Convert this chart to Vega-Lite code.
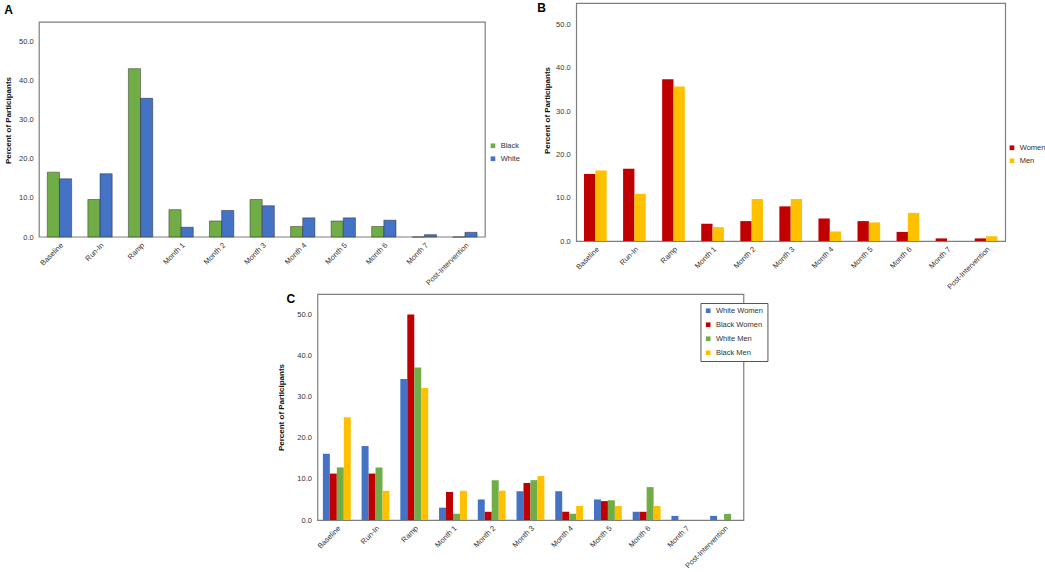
{
  "$schema": "https://vega.github.io/schema/vega-lite/v6.json",
  "padding": {"left": 4, "top": 1, "right": 4, "bottom": 0},
  "config": {
    "font": "Liberation Sans",
    "view": {"stroke": "#7f7f7f", "strokeWidth": 1.2},
    "axis": {"grid": false, "ticks": false, "labelFontSize": 7.5, "labelColor": "#333", "titleFontSize": 8, "titleFontWeight": "bold", "titleColor": "#111", "domain": false},
    "axisX": {"labelAngle": -45, "labelPadding": 4},
    "axisY": {"labelPadding": 6},
    "title": {"fontSize": 12, "fontWeight": "bold", "frame": "group", "color": "#000", "orient": "left", "angle": 0, "anchor": "end", "align": "left", "baseline": "top"},
    "legend": {"title": null, "labelFontSize": 7.5, "labelColor": "#333", "symbolType": "square", "symbolSize": 22, "rowPadding": 4, "symbolStrokeWidth": 0}
  },
  "resolve": {"scale": {"color": "independent", "xOffset": "independent", "x": "independent", "y": "independent"}, "legend": {"color": "independent"}},
  "vconcat": [
    {
      "spacing": 16,
      "resolve": {"scale": {"color": "independent", "xOffset": "independent", "x": "independent", "y": "independent"}, "legend": {"color": "independent"}},
      "hconcat": [
        {
          "title": {"text": "A", "offset": -17, "dy": 2},
          "width": 446,
          "height": 234,
          "view": {"stroke": null},
          "layer": [
            {
              "data": {"values": [{"frame": "plot"}]},
              "mark": {"type": "rect", "fill": null, "stroke": "#7f7f7f", "strokeWidth": 1.2},
              "encoding": {
                "y": {"datum": 55, "type": "quantitative", "scale": {"domain": [0, 59.9], "nice": false}},
                "y2": {"datum": 0}
              }
            },
            {
              "data": {"values": [
                {"period": "Baseline", "group": "Black", "value": 16.6},
                {"period": "Baseline", "group": "White", "value": 14.9},
                {"period": "Run-In", "group": "Black", "value": 9.6},
                {"period": "Run-In", "group": "White", "value": 16.2},
                {"period": "Ramp", "group": "Black", "value": 43.1},
                {"period": "Ramp", "group": "White", "value": 35.5},
                {"period": "Month 1", "group": "Black", "value": 7.0},
                {"period": "Month 1", "group": "White", "value": 2.5},
                {"period": "Month 2", "group": "Black", "value": 4.1},
                {"period": "Month 2", "group": "White", "value": 6.8},
                {"period": "Month 3", "group": "Black", "value": 9.6},
                {"period": "Month 3", "group": "White", "value": 8.0},
                {"period": "Month 4", "group": "Black", "value": 2.7},
                {"period": "Month 4", "group": "White", "value": 4.9},
                {"period": "Month 5", "group": "Black", "value": 4.1},
                {"period": "Month 5", "group": "White", "value": 4.9},
                {"period": "Month 6", "group": "Black", "value": 2.7},
                {"period": "Month 6", "group": "White", "value": 4.3},
                {"period": "Month 7", "group": "Black", "value": 0},
                {"period": "Month 7", "group": "White", "value": 0.6},
                {"period": "Post-Intervention", "group": "Black", "value": 0},
                {"period": "Post-Intervention", "group": "White", "value": 1.2}
              ]},
              "mark": {"type": "bar", "stroke": "#2b2b2b", "strokeWidth": 0.7, "strokeOpacity": 0.7},
              "encoding": {
                "x": {"field": "period", "type": "nominal", "sort": null, "title": null,
                      "scale": {"paddingInner": 0.4, "paddingOuter": 0.2}},
                "xOffset": {"field": "group", "type": "nominal", "sort": ["Black", "White"]},
                "y": {"field": "value", "type": "quantitative", "title": "Percent of Participants",
                      "scale": {"domain": [0, 59.9], "nice": false}, "axis": {"values": [0, 10, 20, 30, 40, 50], "format": ".1f", "titlePadding": 6}},
                "color": {"field": "group", "type": "nominal",
                          "scale": {"domain": ["Black", "White"], "range": ["#70AD47", "#4472C4"]},
                          "legend": {"orient": "none", "legendX": 450, "legendY": 139}}
              }
            }
          ]
        },
        {
          "title": {"text": "B", "offset": -11},
          "width": 429,
          "height": 238,
          "data": {"values": [
            {"period": "Baseline", "group": "Women", "value": 15.5},
            {"period": "Baseline", "group": "Men", "value": 16.3},
            {"period": "Run-In", "group": "Women", "value": 16.7},
            {"period": "Run-In", "group": "Men", "value": 10.9},
            {"period": "Ramp", "group": "Women", "value": 37.4},
            {"period": "Ramp", "group": "Men", "value": 35.7},
            {"period": "Month 1", "group": "Women", "value": 4.0},
            {"period": "Month 1", "group": "Men", "value": 3.2},
            {"period": "Month 2", "group": "Women", "value": 4.6},
            {"period": "Month 2", "group": "Men", "value": 9.7},
            {"period": "Month 3", "group": "Women", "value": 8.0},
            {"period": "Month 3", "group": "Men", "value": 9.7},
            {"period": "Month 4", "group": "Women", "value": 5.2},
            {"period": "Month 4", "group": "Men", "value": 2.2},
            {"period": "Month 5", "group": "Women", "value": 4.6},
            {"period": "Month 5", "group": "Men", "value": 4.3},
            {"period": "Month 6", "group": "Women", "value": 2.1},
            {"period": "Month 6", "group": "Men", "value": 6.5},
            {"period": "Month 7", "group": "Women", "value": 0.6},
            {"period": "Month 7", "group": "Men", "value": 0},
            {"period": "Post-Intervention", "group": "Women", "value": 0.6},
            {"period": "Post-Intervention", "group": "Men", "value": 1.1}
          ]},
          "mark": {"type": "bar"},
          "encoding": {
            "x": {"field": "period", "type": "nominal", "sort": null, "title": null,
                  "scale": {"paddingInner": 0.42, "paddingOuter": 0.2}},
            "xOffset": {"field": "group", "type": "nominal", "sort": ["Women", "Men"]},
            "y": {"field": "value", "type": "quantitative", "title": "Percent of Participants",
                  "scale": {"domain": [0, 55], "nice": false}, "axis": {"values": [0, 10, 20, 30, 40, 50], "format": ".1f", "titleY": 107, "titlePadding": 4}},
            "color": {"field": "group", "type": "nominal",
                      "scale": {"domain": ["Women", "Men"], "range": ["#C00000", "#FFC000"]},
                      "legend": {"orient": "none", "legendX": 432, "legendY": 141}}
          }
        }
      ]
    },
    {
      "title": {"text": "C", "offset": -26},
      "width": 426,
      "height": 226,
      "data": {"values": [
        {"period": "Baseline", "group": "White Women", "value": 16.1},
        {"period": "Baseline", "group": "Black Women", "value": 11.3},
        {"period": "Baseline", "group": "White Men", "value": 12.8},
        {"period": "Baseline", "group": "Black Men", "value": 25.0},
        {"period": "Run-In", "group": "White Women", "value": 18.0},
        {"period": "Run-In", "group": "Black Women", "value": 11.3},
        {"period": "Run-In", "group": "White Men", "value": 12.8},
        {"period": "Run-In", "group": "Black Men", "value": 7.1},
        {"period": "Ramp", "group": "White Women", "value": 34.3},
        {"period": "Ramp", "group": "Black Women", "value": 50.0},
        {"period": "Ramp", "group": "White Men", "value": 37.1},
        {"period": "Ramp", "group": "Black Men", "value": 32.1},
        {"period": "Month 1", "group": "White Women", "value": 3.0},
        {"period": "Month 1", "group": "Black Women", "value": 6.8},
        {"period": "Month 1", "group": "White Men", "value": 1.5},
        {"period": "Month 1", "group": "Black Men", "value": 7.1},
        {"period": "Month 2", "group": "White Women", "value": 5.0},
        {"period": "Month 2", "group": "Black Women", "value": 2.0},
        {"period": "Month 2", "group": "White Men", "value": 9.7},
        {"period": "Month 2", "group": "Black Men", "value": 7.1},
        {"period": "Month 3", "group": "White Women", "value": 7.0},
        {"period": "Month 3", "group": "Black Women", "value": 9.0},
        {"period": "Month 3", "group": "White Men", "value": 9.7},
        {"period": "Month 3", "group": "Black Men", "value": 10.7},
        {"period": "Month 4", "group": "White Women", "value": 7.0},
        {"period": "Month 4", "group": "Black Women", "value": 2.0},
        {"period": "Month 4", "group": "White Men", "value": 1.5},
        {"period": "Month 4", "group": "Black Men", "value": 3.4},
        {"period": "Month 5", "group": "White Women", "value": 5.0},
        {"period": "Month 5", "group": "Black Women", "value": 4.6},
        {"period": "Month 5", "group": "White Men", "value": 4.8},
        {"period": "Month 5", "group": "Black Men", "value": 3.4},
        {"period": "Month 6", "group": "White Women", "value": 2.0},
        {"period": "Month 6", "group": "Black Women", "value": 2.0},
        {"period": "Month 6", "group": "White Men", "value": 8.0},
        {"period": "Month 6", "group": "Black Men", "value": 3.4},
        {"period": "Month 7", "group": "White Women", "value": 1.0},
        {"period": "Month 7", "group": "Black Women", "value": 0},
        {"period": "Month 7", "group": "White Men", "value": 0},
        {"period": "Month 7", "group": "Black Men", "value": 0},
        {"period": "Post-Intervention", "group": "White Women", "value": 1.0},
        {"period": "Post-Intervention", "group": "Black Women", "value": 0},
        {"period": "Post-Intervention", "group": "White Men", "value": 1.5},
        {"period": "Post-Intervention", "group": "Black Men", "value": 0}
      ]},
      "mark": {"type": "bar"},
      "encoding": {
        "x": {"field": "period", "type": "nominal", "sort": null, "title": null,
              "scale": {"paddingInner": 0.28, "paddingOuter": 0.14}},
        "xOffset": {"field": "group", "type": "nominal", "sort": ["White Women", "Black Women", "White Men", "Black Men"]},
        "y": {"field": "value", "type": "quantitative", "title": "Percent of Participants",
              "scale": {"domain": [0, 55], "nice": false}, "axis": {"values": [0, 10, 20, 30, 40, 50], "format": ".1f", "titlePadding": 11}},
        "color": {"field": "group", "type": "nominal",
                  "scale": {"domain": ["White Women", "Black Women", "White Men", "Black Men"], "range": ["#4472C4", "#C00000", "#70AD47", "#FFC000"]},
                  "legend": {"orient": "none", "legendX": 383, "legendY": 9, "strokeColor": "#555", "fillColor": "#fff", "padding": 4, "rowPadding": 5}}
      }
    }
  ],
  "center": true,
  "spacing": 1
}
